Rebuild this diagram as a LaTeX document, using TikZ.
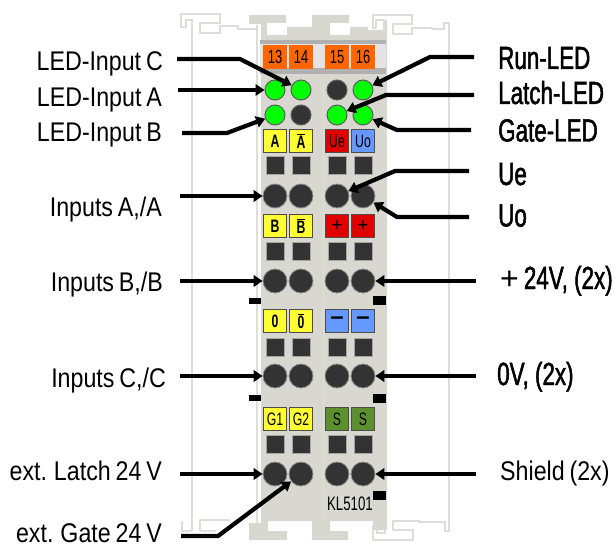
\documentclass[tikz,border=0pt]{standalone}
\usepackage{fontspec}
\usepackage{xcolor}
\usepackage{tikz}
\usetikzlibrary{arrows.meta}
\setmainfont{Liberation Sans}
\newfontfamily\leftfont[FakeStretch=0.86,WordSpace=0.75]{Liberation Sans}
\newfontfamily\calloutfont[FakeStretch=0.70,FakeBold=1.5]{Liberation Sans}
\newfontfamily\modulefont[FakeStretch=0.68]{Liberation Sans}
\definecolor{housing}{HTML}{D8D8D0}
\definecolor{railgray}{HTML}{DEDED8}
\definecolor{stripdark}{HTML}{B0B0B0}
\definecolor{striplight}{HTML}{E4E4E4}
\definecolor{contact}{HTML}{333333}
\definecolor{tagorange}{HTML}{FF6600}
\definecolor{ledgreen}{HTML}{00FF00}
\definecolor{tagyellow}{HTML}{FFFF33}
\definecolor{tagred}{HTML}{E00000}
\definecolor{tagblue}{HTML}{6699FF}
\definecolor{taggreen}{HTML}{5C8F2E}
\tikzset{
  % --- housing outline ---
  rail/.style={draw=railgray, line width=1.6pt},
  % --- terminal block parts ---
  numtag/.style={fill=tagorange, minimum width=23.5pt, minimum height=23.5pt, inner sep=0pt,
                 font=\modulefont\fontsize{19}{19}\selectfont},
  ledoff/.style={circle, draw=contact!80!white, line width=1pt, fill=contact, minimum size=20pt, inner sep=0pt},
  ledon/.style={ledoff, fill=ledgreen},
  sigtag/.style={draw=black!70, line width=1pt, minimum width=23pt, minimum height=23pt, inner sep=0pt,
                 font=\modulefont\bfseries\fontsize{18}{18}\selectfont},
  yeltag/.style={sigtag, fill=tagyellow},
  redtag/.style={sigtag, fill=tagred},
  blutag/.style={sigtag, fill=tagblue},
  grntag/.style={sigtag, fill=taggreen},
  springslot/.style={draw=black!35, line width=1pt, fill=contact, minimum size=18pt, inner sep=0pt},
  terminal/.style={circle, draw=black!45, line width=.8pt, fill=contact, minimum size=24pt, inner sep=0pt},
  marker/.style={fill=black, inner sep=0pt},
  % --- callouts, placed by their baselines ---
  leftlabel/.style={anchor=base east, inner sep=0pt, font=\leftfont\fontsize{27}{27}\selectfont},
  rightlabel/.style={anchor=base west, inner sep=0pt, font=\calloutfont\fontsize{32}{32}\selectfont},
  lead/.style={line width=4.2pt, draw=black, -{Triangle[length=9pt,width=11.5pt]}},
}
\begin{document}
\begin{tikzpicture}[x=1pt,y=-1pt]
  \useasboundingbox (0,0) rectangle (615,548);
  % pale outline of the neighbouring terminals
  \draw[rail] (192,531) -- (192,20) -- (186,20) -- (186,27) -- (181,27) -- (181,14) -- (220,14) -- (220,23)
        -- (200,23) -- (200,33) -- (220,33) -- (220,26) -- (238,26) -- (238,29) -- (256,29);
  \draw[rail] (257,25) -- (257,533);
  \draw[rail] (192,531) -- (182,531) -- (182,521);
  \draw[rail] (200,531) -- (200,520) -- (230,520);
  \draw[rail] (200,531) -- (216,531);
  \draw[rail] (376,28) -- (373,28) -- (373,15) -- (412,15) -- (412,24) -- (393,24) -- (393,34) -- (412,34)
        -- (412,28) -- (432,28) -- (432,29) -- (444,29) -- (444,23) -- (449,23) -- (449,531) -- (445,531)
        -- (445,522) -- (419,522) -- (419,521) -- (393,521) -- (393,530) -- (413,530) -- (413,540)
        -- (373,540) -- (373,525);
  \draw[rail] (376,28) -- (376,20) -- (384,20) -- (384,30);
  \draw[rail] (377,525) -- (377,533) -- (385,533) -- (385,523);

  % housing
  \fill[housing] (249,15) -- (286,15) -- (286,23) -- (267,23) -- (267,35) -- (287,35) -- (287,27) -- (312,27)
        -- (312,15) -- (349,15) -- (349,23) -- (330,23) -- (330,35) -- (350,35) -- (350,27) -- (368,27)
        -- (368,30) -- (385,30) -- (385,20) -- (387,20) -- (387,530) -- (373,530) -- (373,521) -- (330,521)
        -- (330,531) -- (348,531) -- (348,540) -- (312,540) -- (312,521) -- (268,521) -- (268,531) -- (287,531)
        -- (287,540) -- (249,540) -- (249,523) -- (261,523) -- (261,24) -- (249,24) -- cycle;
  \draw[railgray, line width=.8pt] (323,74) -- (323,521);
  \fill[striplight] (260,40) rectangle (386,74);
  \fill[stripdark] (260,40) rectangle (386,44);
  \fill[stripdark] (260,68) rectangle (386,74);

  % channel numbers
  \node[numtag] (n13) at (275,57) {13};
  \node[numtag] (n14) at (301,57) {14};
  \node[numtag] (n15) at (337,57) {15};
  \node[numtag] (n16) at (363,57) {16};

  % LEDs
  \node[ledon]  (ledA)    at (275,90)  {};
  \node[ledon]  (ledC)    at (301,90)  {};
  \node[ledoff] (ledOff1) at (337,90)  {};
  \node[ledon]  (ledRun)  at (363,90)  {};
  \node[ledon]  (ledB)    at (275,115) {};
  \node[ledoff] (ledOff2) at (301,115) {};
  \node[ledon]  (ledLatch) at (337,115) {};
  \node[ledon]  (ledGate) at (363,115) {};

  % signal tags, first row
  \node[yeltag] (tagA)  at (275,141) {A};
  \node[yeltag] (tagAn) at (301,141) {$\overline{\mbox{A}}$};
  \node[redtag] (tagUe) at (337,141) {\mdseries Ue};
  \node[blutag] (tagUo) at (363,141) {\mdseries Uo};
  \node[springslot] (s11) at (275,166) {};
  \node[springslot] (s12) at (301,166) {};
  \node[springslot] (s13) at (337,166) {};
  \node[springslot] (s14) at (363,166) {};
  \node[terminal] (t11) at (275,196) {};
  \node[terminal] (t12) at (301,196) {};
  \node[terminal] (t13) at (337,196) {};
  \node[terminal] (t14) at (363,196) {};

  % second row
  \node[yeltag] (tagB)  at (275,226) {B};
  \node[yeltag] (tagBn) at (301,226) {$\overline{\mbox{B}}$};
  \node[redtag] (tagP1) at (337,226) {\normalfont\fontsize{19}{19}\selectfont +};
  \node[redtag] (tagP2) at (363,226) {\normalfont\fontsize{19}{19}\selectfont +};
  \node[springslot] (s21) at (275,251) {};
  \node[springslot] (s22) at (301,251) {};
  \node[springslot] (s23) at (337,251) {};
  \node[springslot] (s24) at (363,251) {};
  \node[terminal] (t21) at (275,281) {};
  \node[terminal] (t22) at (301,281) {};
  \node[terminal] (t23) at (337,281) {};
  \node[terminal] (t24) at (363,281) {};
  \node[marker, minimum width=12pt, minimum height=6pt] (m1) at (255,301) {};
  \node[marker, minimum width=13pt, minimum height=9pt] (m2) at (379.5,300.5) {};

  % third row
  \node[yeltag] (tagO)  at (275,321) {0};
  \node[yeltag] (tagOn) at (301,321) {$\overline{\mbox{0}}$};
  \node[blutag] (tagM1) at (337,321) {\normalfont\bfseries\fontsize{24}{24}\selectfont --};
  \node[blutag] (tagM2) at (363,321) {\normalfont\bfseries\fontsize{24}{24}\selectfont --};
  \node[springslot] (s31) at (275,347) {};
  \node[springslot] (s32) at (301,347) {};
  \node[springslot] (s33) at (337,347) {};
  \node[springslot] (s34) at (363,347) {};
  \node[terminal] (t31) at (275,376) {};
  \node[terminal] (t32) at (301,376) {};
  \node[terminal] (t33) at (337,376) {};
  \node[terminal] (t34) at (363,376) {};
  \node[marker, minimum width=12pt, minimum height=6pt] (m3) at (255,398) {};
  \node[marker, minimum width=13pt, minimum height=9pt] (m4) at (379.5,398.5) {};

  % fourth row
  \node[yeltag] (tagG1) at (275,419) {\mdseries G1};
  \node[yeltag] (tagG2) at (301,419) {\mdseries G2};
  \node[grntag] (tagS1) at (337,419) {\mdseries S};
  \node[grntag] (tagS2) at (363,419) {\mdseries S};
  \node[springslot] (s41) at (275,444.5) {};
  \node[springslot] (s42) at (301,444.5) {};
  \node[springslot] (s43) at (337,444.5) {};
  \node[springslot] (s44) at (363,444.5) {};
  \node[terminal] (t41) at (275,474) {};
  \node[terminal] (t42) at (301,474) {};
  \node[terminal] (t43) at (337,474) {};
  \node[terminal] (t44) at (363,474) {};
  \node[marker, minimum width=13pt, minimum height=9pt] (m5) at (379.5,495.5) {};
  \node[font=\modulefont\fontsize{19.5}{19.5}\selectfont, inner sep=0pt] (type) at (350,504) {KL5101};

  % left callouts
  \node[leftlabel] (lblC)   at (163,71)    {LED-Input C};
  \node[leftlabel] (lblA)   at (162,106.5) {LED-Input A};
  \node[leftlabel] (lblB)   at (162,141.5) {LED-Input B};
  \node[leftlabel] (lblInA) at (162,216.5) {Inputs A,/A};
  \node[leftlabel] (lblInB) at (163,291)   {Inputs B,/B};
  \node[leftlabel] (lblInC) at (166,387)   {Inputs C,/C};
  \node[leftlabel] (lblLat) at (162,480)   {ext. Latch 24 V};
  \node[leftlabel] (lblGat) at (162,542)   {ext. Gate 24 V};

  % right callouts
  \node[rightlabel] (lblRun) at (498,69)    {Run-LED};
  \node[rightlabel] (lblLch) at (498,104)   {Latch-LED};
  \node[rightlabel] (lblGte) at (498,141.5) {Gate-LED};
  \node[rightlabel] (lblUe)  at (498,185)   {Ue};
  \node[rightlabel] (lblUo)  at (498,226.5) {Uo};
  \node[rightlabel] (lblPos) at (500,289)   {{\normalfont\fontsize{32}{32}\selectfont +}\hspace{5pt}24V, (2x)};
  \node[rightlabel] (lblZer) at (497,385)   {0V, (2x)};
  \node[leftlabel, anchor=base west] (lblShd) at (500,480) {Shield (2x)};

  % bends of the leads
  \coordinate (bendC)  at (240,59);
  \coordinate (bendB)  at (227,133);
  \coordinate (bendG)  at (218,536);
  \coordinate (bendR)  at (430,57);
  \coordinate (bendL)  at (386,95);
  \coordinate (bendGt) at (397,130);
  \coordinate (bendUe) at (395,171);
  \coordinate (bendUo) at (397,217);

  % leads, left side
  \draw[lead] ([xshift=14pt]lblC.east |- bendC) -- (bendC) -- (ledC);
  \draw[lead] ([xshift=16pt]lblA.east |- ledA) -- (ledA);
  \draw[lead] ([xshift=20pt]lblB.east |- bendB) -- (bendB) -- (ledB);
  \draw[lead] ([xshift=18pt]lblInA.east |- t11) -- (t11);
  \draw[lead] ([xshift=17pt]lblInB.east |- t21) -- (t21);
  \draw[lead] ([xshift=14pt]lblInC.east |- t31) -- (t31);
  \draw[lead] ([xshift=18pt]lblLat.east |- t41) -- (t41);
  \draw[lead] ([xshift=19pt]lblGat.east |- bendG) -- (bendG) -- (t42);

  % leads, right side
  \draw[lead] ([xshift=-24pt]lblRun.west |- bendR) -- (bendR) -- (ledRun);
  \draw[lead] ([xshift=-24pt]lblLch.west |- bendL) -- (bendL) -- (ledLatch);
  \draw[lead] ([xshift=-27pt]lblGte.west |- bendGt) -- (bendGt) -- (ledGate);
  \draw[lead] ([xshift=-29pt]lblUe.west |- bendUe) -- (bendUe) -- (t13);
  \draw[lead] ([xshift=-29pt]lblUo.west |- bendUo) -- (bendUo) -- (t14);
  \draw[lead] ([xshift=-24pt]lblPos.west |- t24) -- (t24);
  \draw[lead] ([xshift=-21pt]lblZer.west |- t34) -- (t34);
  \draw[lead] ([xshift=-24pt]lblShd.west |- t44) -- (t44);
\end{tikzpicture}
\end{document}
